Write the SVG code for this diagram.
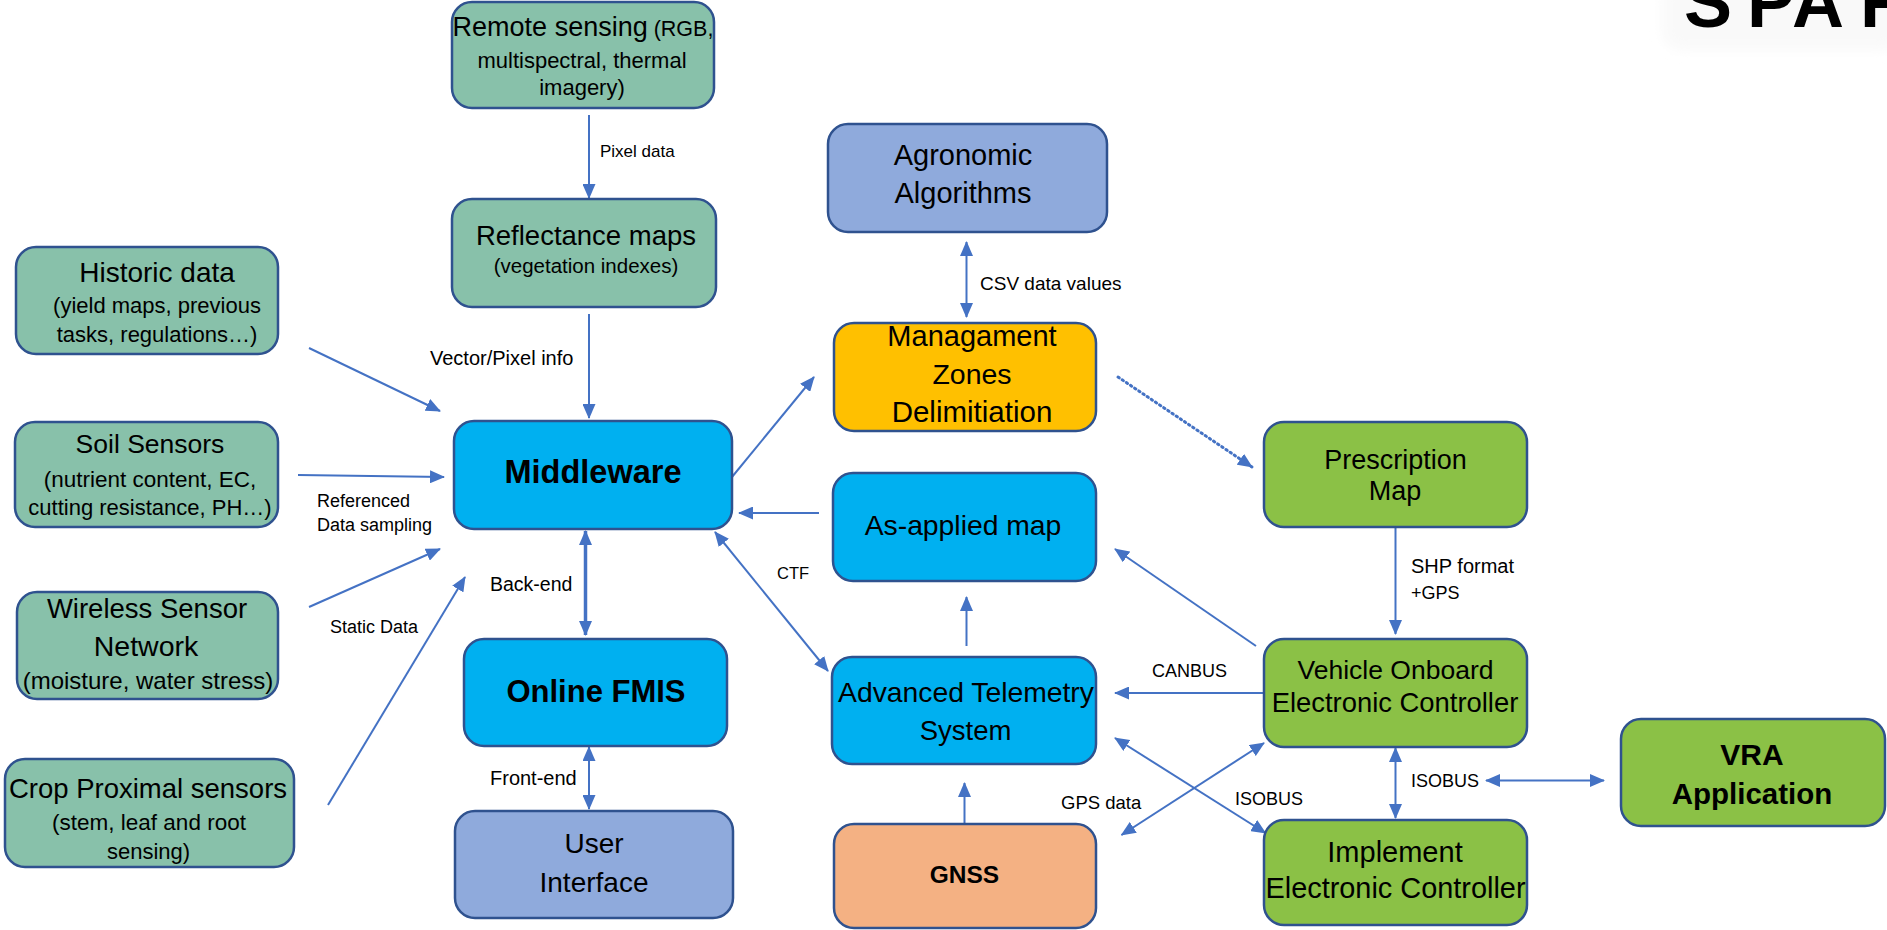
<svg xmlns="http://www.w3.org/2000/svg" width="1887" height="930" viewBox="0 0 1887 930">
  <defs>
    <marker id="arrow" markerUnits="userSpaceOnUse" markerWidth="15" markerHeight="13" viewBox="0 0 15 13" refX="14" refY="6.5" orient="auto-start-reverse">
      <path d="M0,0 L15,6.5 L0,13 z" fill="#4472C4"/>
    </marker>
    <filter id="haze" x="-20%" y="-50%" width="140%" height="200%">
      <feGaussianBlur stdDeviation="6"/>
    </filter>
  </defs>
  <style>
    .box { stroke: #2F528F; stroke-width: 2.5; }
    .teal { fill: #88C1AA; }
    .cyan { fill: #00B0F0; }
    .slate { fill: #8FAADC; }
    .amber { fill: #FFC000; }
    .lime { fill: #8BC146; }
    .peach { fill: #F4B183; }
    text { font-family: "Liberation Sans", Arial, sans-serif; fill: #000; }
    .c { text-anchor: middle; }
    .b { font-weight: bold; }
    .lbl { font-size: 18px; }
    .conn line { stroke: #4472C4; stroke-width: 2; fill: none; }
    .conn .thick { stroke-width: 3.5; }
    .conn .dots { stroke-width: 3; stroke-dasharray: 1.5 3.5; stroke-linecap: round; }
  </style>

  <rect width="1887" height="930" fill="#FFFFFF"/>

  <!-- heading fragment, top right, on a faint light panel -->
  <g id="heading">
    <rect x="1662" y="-20" width="240" height="70" rx="20" fill="#F9F9F9" filter="url(#haze)"/>
    <text x="1684 1747 1792 1860" y="27" font-size="72" font-weight="bold">SPAR</text>
  </g>

  <!-- connectors -->
  <g id="connectors" class="conn">
    <line x1="589" y1="115" x2="589" y2="198" marker-end="url(#arrow)"/>
    <line x1="589" y1="314" x2="589" y2="418" marker-end="url(#arrow)"/>
    <line x1="309" y1="348" x2="440" y2="411" marker-end="url(#arrow)"/>
    <line x1="298" y1="475" x2="444" y2="477" marker-end="url(#arrow)"/>
    <line x1="309" y1="607" x2="440" y2="549" marker-end="url(#arrow)"/>
    <line x1="328" y1="805" x2="465" y2="577" marker-end="url(#arrow)"/>
    <line class="thick" x1="585.5" y1="531" x2="585.5" y2="635" marker-start="url(#arrow)" marker-end="url(#arrow)"/>
    <line x1="589" y1="747" x2="589" y2="809" marker-start="url(#arrow)" marker-end="url(#arrow)"/>
    <line x1="732" y1="477" x2="814" y2="377" marker-end="url(#arrow)"/>
    <line x1="819" y1="513" x2="739" y2="513" marker-end="url(#arrow)"/>
    <line x1="715" y1="532" x2="828" y2="671" marker-start="url(#arrow)" marker-end="url(#arrow)"/>
    <line x1="966.5" y1="242" x2="966.5" y2="317" marker-start="url(#arrow)" marker-end="url(#arrow)"/>
    <line class="dots" x1="1118" y1="377" x2="1252" y2="467" marker-end="url(#arrow)"/>
    <line x1="966.5" y1="646" x2="966.5" y2="597" marker-end="url(#arrow)"/>
    <line x1="1256" y1="646" x2="1115" y2="549" marker-end="url(#arrow)"/>
    <line x1="1395.5" y1="527" x2="1395.5" y2="634" marker-end="url(#arrow)"/>
    <line x1="1264" y1="693" x2="1115" y2="693" marker-end="url(#arrow)"/>
    <line x1="964.5" y1="823" x2="964.5" y2="783" marker-end="url(#arrow)"/>
    <line x1="1121.5" y1="835" x2="1264" y2="743" marker-start="url(#arrow)" marker-end="url(#arrow)"/>
    <line x1="1115" y1="738" x2="1265.5" y2="833" marker-start="url(#arrow)" marker-end="url(#arrow)"/>
    <line x1="1395.5" y1="748" x2="1395.5" y2="818" marker-start="url(#arrow)" marker-end="url(#arrow)"/>
    <line x1="1486" y1="780.5" x2="1604" y2="780.5" marker-start="url(#arrow)" marker-end="url(#arrow)"/>
  </g>

  <!-- connector labels -->
  <g id="connector-labels">
    <text x="600" y="157" font-size="17">Pixel data</text>
    <text x="430" y="365" font-size="20">Vector/Pixel info</text>
    <text x="317" y="507" class="lbl">Referenced</text>
    <text x="317" y="531" class="lbl">Data sampling</text>
    <text x="330" y="633" class="lbl">Static Data</text>
    <text x="490" y="591" font-size="19.5">Back-end</text>
    <text x="490" y="785" font-size="20">Front-end</text>
    <text x="980" y="290" font-size="19">CSV data values</text>
    <text x="777" y="579" font-size="16.5">CTF</text>
    <text x="1411" y="573" font-size="20">SHP format</text>
    <text x="1411" y="599" font-size="18">+GPS</text>
    <text x="1152" y="677" class="lbl">CANBUS</text>
    <text x="1061" y="809" font-size="18.5">GPS data</text>
    <text x="1235" y="805" class="lbl">ISOBUS</text>
    <text x="1411" y="787" class="lbl">ISOBUS</text>
  </g>

  <!-- nodes -->
  <g id="remote-sensing">
    <rect class="box teal" x="452" y="2" width="262" height="106" rx="20"/>
    <text class="c" x="583" y="36" font-size="27">Remote sensing<tspan font-size="21.5"> (RGB,</tspan></text>
    <text class="c" x="582" y="68" font-size="22">multispectral, thermal</text>
    <text class="c" x="582" y="95" font-size="22">imagery)</text>
  </g>

  <g id="reflectance-maps">
    <rect class="box teal" x="452" y="199" width="264" height="108" rx="20"/>
    <text class="c" x="586" y="245" font-size="27.5">Reflectance maps</text>
    <text class="c" x="586" y="273" font-size="20.5">(vegetation indexes)</text>
  </g>

  <g id="historic-data">
    <rect class="box teal" x="16" y="247" width="262" height="107" rx="20"/>
    <text class="c" x="157" y="282" font-size="28">Historic data</text>
    <text class="c" x="157" y="313" font-size="22">(yield maps, previous</text>
    <text class="c" x="157" y="342" font-size="22">tasks, regulations…)</text>
  </g>

  <g id="soil-sensors">
    <rect class="box teal" x="15" y="422" width="263" height="105" rx="20"/>
    <text class="c" x="150" y="453" font-size="26.5">Soil Sensors</text>
    <text class="c" x="150" y="487" font-size="22.5">(nutrient content, EC,</text>
    <text class="c" x="150" y="515" font-size="22">cutting resistance, PH…)</text>
  </g>

  <g id="wireless-sensor-network">
    <rect class="box teal" x="17" y="592" width="261" height="107" rx="20"/>
    <text class="c" x="147" y="618" font-size="27.5">Wireless Sensor</text>
    <text class="c" x="146" y="656" font-size="28.5">Network</text>
    <text class="c" x="148" y="689" font-size="24">(moisture, water stress)</text>
  </g>

  <g id="crop-proximal-sensors">
    <rect class="box teal" x="5" y="759" width="289" height="108" rx="20"/>
    <text class="c" x="148" y="798" font-size="27.5">Crop Proximal sensors</text>
    <text class="c" x="149" y="830" font-size="22.5">(stem, leaf and root</text>
    <text class="c" x="148.5" y="859" font-size="22">sensing)</text>
  </g>

  <g id="middleware">
    <rect class="box cyan" x="454" y="421" width="278" height="108" rx="20"/>
    <text class="c b" x="593" y="483" font-size="32.5">Middleware</text>
  </g>

  <g id="online-fmis">
    <rect class="box cyan" x="464" y="639" width="263" height="107" rx="20"/>
    <text class="c b" x="596" y="702" font-size="31">Online FMIS</text>
  </g>

  <g id="user-interface">
    <rect class="box slate" x="455" y="811" width="278" height="107" rx="20"/>
    <text class="c" x="594" y="853" font-size="28">User</text>
    <text class="c" x="594" y="892" font-size="28">Interface</text>
  </g>

  <g id="agronomic-algorithms">
    <rect class="box slate" x="828" y="124" width="279" height="108" rx="20"/>
    <text class="c" x="963" y="165" font-size="29">Agronomic</text>
    <text class="c" x="963" y="203" font-size="29">Algorithms</text>
  </g>

  <g id="management-zones">
    <rect class="box amber" x="834" y="323" width="262" height="108" rx="20"/>
    <text class="c" x="972" y="346" font-size="29">Managament</text>
    <text class="c" x="972" y="384" font-size="28.5">Zones</text>
    <text class="c" x="972" y="422" font-size="29.5">Delimitiation</text>
  </g>

  <g id="as-applied-map">
    <rect class="box cyan" x="833" y="473" width="263" height="108" rx="20"/>
    <text class="c" x="963" y="535" font-size="28.3">As-applied map</text>
  </g>

  <g id="advanced-telemetry">
    <rect class="box cyan" x="832" y="657" width="264" height="107" rx="20"/>
    <text class="c" x="966" y="702" font-size="28.3">Advanced Telemetry</text>
    <text class="c" x="965.5" y="740" font-size="27.5">System</text>
  </g>

  <g id="gnss">
    <rect class="box peach" x="834" y="824" width="262" height="104" rx="20"/>
    <text class="c b" x="964.5" y="883" font-size="24.5">GNSS</text>
  </g>

  <g id="prescription-map">
    <rect class="box lime" x="1264" y="422" width="263" height="105" rx="20"/>
    <text class="c" x="1395.5" y="469" font-size="27">Prescription</text>
    <text class="c" x="1395" y="500" font-size="27">Map</text>
  </g>

  <g id="vehicle-controller">
    <rect class="box lime" x="1264" y="639" width="263" height="108" rx="20"/>
    <text class="c" x="1395.5" y="679" font-size="26.5">Vehicle Onboard</text>
    <text class="c" x="1395" y="712" font-size="27.4">Electronic Controller</text>
  </g>

  <g id="implement-controller">
    <rect class="box lime" x="1264" y="820" width="263" height="105" rx="20"/>
    <text class="c" x="1395" y="862" font-size="29">Implement</text>
    <text class="c" x="1395.5" y="898" font-size="28.9">Electronic Controller</text>
  </g>

  <g id="vra-application">
    <rect class="box lime" x="1621" y="719" width="264" height="107" rx="20"/>
    <text class="c b" x="1752" y="765" font-size="30">VRA</text>
    <text class="c b" x="1752" y="804" font-size="29.5">Application</text>
  </g>
</svg>
